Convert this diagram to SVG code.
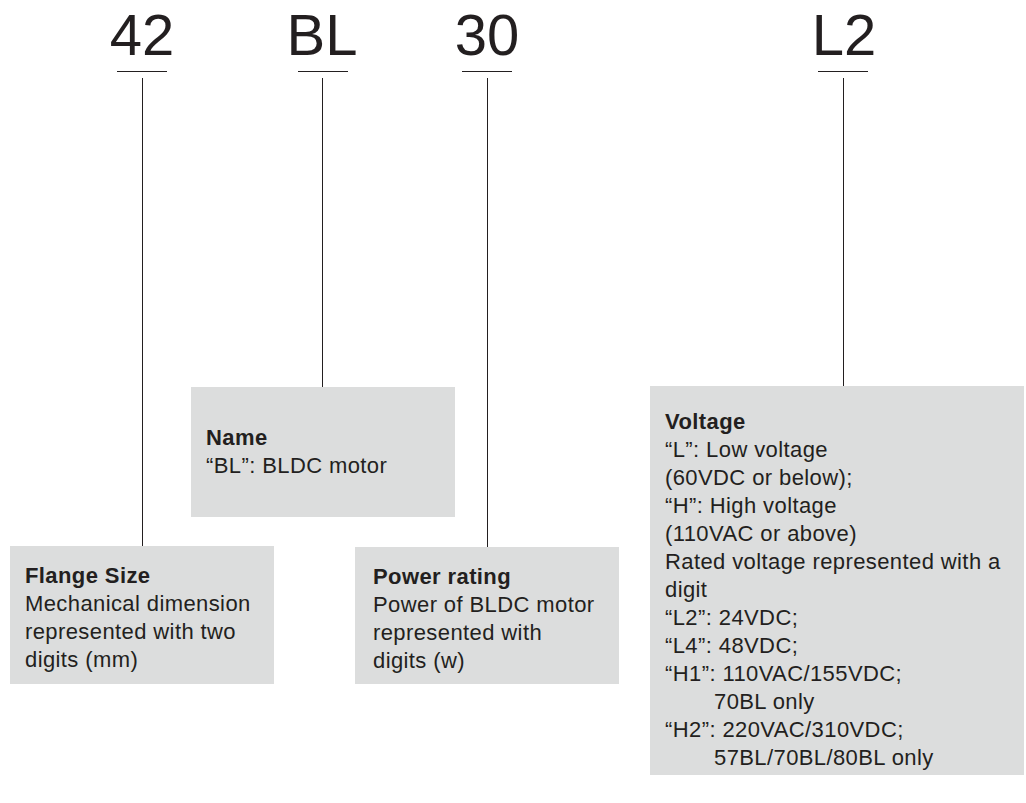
<svg xmlns="http://www.w3.org/2000/svg" width="1026" height="803" viewBox="0 0 1026 803">
<style>
.big{font-family:"Liberation Sans",Arial,sans-serif;font-size:58px;fill:#231f20;text-anchor:middle}
.t{font-family:"Liberation Sans",Arial,sans-serif;font-size:22px;fill:#231f20;letter-spacing:0.4px}
.b{font-weight:bold}
.box{fill:#dcdddd}
.ln{stroke:#231f20;stroke-width:1;fill:none}
</style>
<rect width="1026" height="803" fill="#ffffff"/>
<g id="codes">
<text class="big" x="142" y="55">42</text>
<text class="big" x="322" y="55">BL</text>
<text class="big" x="487" y="55">30</text>
<text class="big" x="844" y="55">L2</text>
</g>
<g id="connectors">
<line class="ln" x1="117" y1="71.5" x2="167" y2="71.5"/>
<line class="ln" x1="142.5" y1="78" x2="142.5" y2="546"/>
<line class="ln" x1="298" y1="71.5" x2="348" y2="71.5"/>
<line class="ln" x1="322.5" y1="78" x2="322.5" y2="387"/>
<line class="ln" x1="462" y1="71.5" x2="512" y2="71.5"/>
<line class="ln" x1="487.5" y1="78" x2="487.5" y2="547"/>
<line class="ln" x1="818" y1="71.5" x2="868" y2="71.5"/>
<line class="ln" x1="843.5" y1="78" x2="843.5" y2="386"/>
</g>
<g id="flange">
<rect class="box" x="10" y="546" width="264" height="138"/>
<text class="t b" x="25" y="583">Flange Size</text>
<text class="t" x="25" y="611">Mechanical dimension</text>
<text class="t" x="25" y="639">represented with two</text>
<text class="t" x="25" y="667">digits (mm)</text>
</g>
<g id="name">
<rect class="box" x="191" y="387" width="264" height="130"/>
<text class="t b" x="206" y="445">Name</text>
<text class="t" x="206" y="473">“BL”: BLDC motor</text>
</g>
<g id="power">
<rect class="box" x="355" y="547" width="264" height="137"/>
<text class="t b" x="373" y="584">Power rating</text>
<text class="t" x="373" y="612">Power of BLDC motor</text>
<text class="t" x="373" y="640">represented with</text>
<text class="t" x="373" y="668">digits (w)</text>
</g>
<g id="voltage">
<rect class="box" x="650" y="386" width="374" height="389"/>
<text class="t b" x="665" y="429">Voltage</text>
<text class="t" x="665" y="457">“L”: Low voltage</text>
<text class="t" x="665" y="485">(60VDC or below);</text>
<text class="t" x="665" y="513">“H”: High voltage</text>
<text class="t" x="665" y="541">(110VAC or above)</text>
<text class="t" x="665" y="569">Rated voltage represented with a</text>
<text class="t" x="665" y="597">digit</text>
<text class="t" x="665" y="625">“L2”: 24VDC;</text>
<text class="t" x="665" y="653">“L4”: 48VDC;</text>
<text class="t" x="665" y="681">“H1”: 110VAC/155VDC;</text>
<text class="t" x="714" y="709">70BL only</text>
<text class="t" x="665" y="737">“H2”: 220VAC/310VDC;</text>
<text class="t" x="714" y="765">57BL/70BL/80BL only</text>
</g>
</svg>
